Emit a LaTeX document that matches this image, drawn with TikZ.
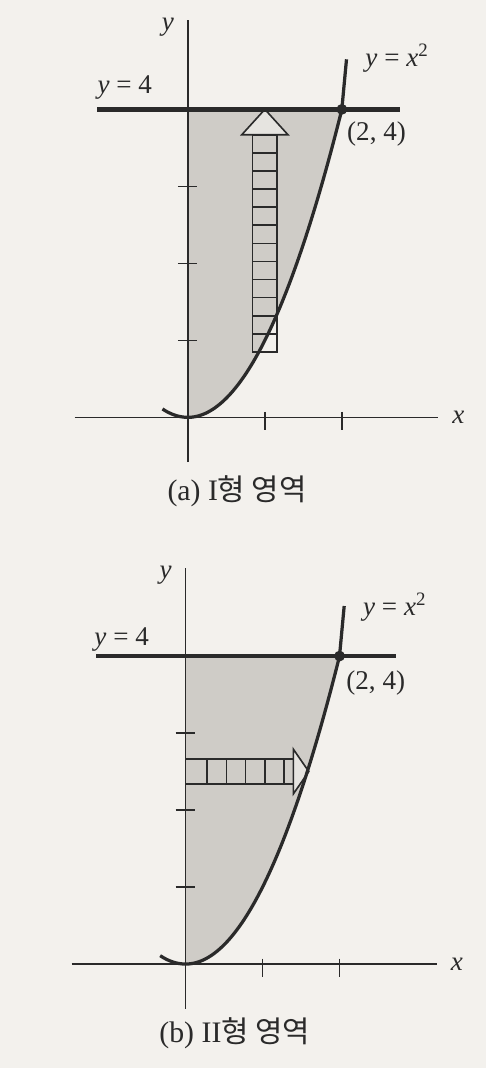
\documentclass[tikz,border=0pt]{standalone}
\usepackage{fontspec}
\setmainfont{Liberation Serif}
\newfontfamily\kor{Noto Sans CJK KR}
\usepackage{tikz}
\usetikzlibrary{arrows.meta,positioning}
\definecolor{Fondo}{HTML}{F3F1ED}
\definecolor{Region}{HTML}{CFCCC7}
\definecolor{Punta}{HTML}{E6E4E0}
\definecolor{Tinta}{HTML}{2A2A2A}

\begin{document}
\begin{tikzpicture}[
  font=\fontsize{10}{12}\selectfont,
  eje/.style={Tinta,line width=0.5pt},
  marca/.style={Tinta,line width=0.5pt},
  recta/.style={Tinta,line width=1.7pt},
  curva/.style={Tinta,line width=1.2pt},
  banda/.style={Tinta,line width=0.6pt},
  punta/.style={Tinta,line width=0.6pt,fill=Punta},
  etiqueta/.style={Tinta,inner sep=1pt},
  pie/.style={Tinta,font=\fontsize{11}{13}\selectfont}
]
  \useasboundingbox (-2.44,-8.45) rectangle (3.87,5.42);
  \fill[Fondo] (-2.44,-8.45) rectangle (3.87,5.42);

  % (a) franja vertical
  \begin{scope}
    \fill[Region] (0,0) -- plot[domain=0:2,samples=60] (\x,{\x*\x}) -- (0,4) -- cycle;
    \draw[eje] (-1.47,0) -- (3.25,0) node[right=4pt,etiqueta] (xa) {\textit{x}};
    \draw[eje] (0,-0.58) -- (0,5.16);
    \node[etiqueta] (ya) at (-0.26,5.07) {\textit{y}};
    \foreach \t in {1,2,3} {\draw[marca] (-0.13,\t) -- (0.12,\t);}
    \foreach \t in {1,2} {\draw[marca] (\t,0.07) -- (\t,-0.17);}
    % franja con flecha
    \draw[banda] (0.84,0.85) rectangle (1.16,3.67);
    \foreach \k in {1,...,11}
      {\draw[banda] (0.84,{0.85+0.235*\k}) -- (1.16,{0.85+0.235*\k});}
    \filldraw[punta] (0.70,3.67) -- (1.30,3.67) -- (1.0,4.0) -- cycle;
    \draw[recta] (-1.18,4) -- (2.75,4);
    \draw[curva] plot[domain=-0.33:2,samples=80,smooth] (\x,{\x*\x}) -- (2.06,4.65);
    \fill[Tinta] (2,4) circle (0.07);
    \node[etiqueta] (rectaA) at (-0.82,4.28) {\textit{y} = 4};
    \node[etiqueta] (curvaA) at (2.72,4.66) {\textit{y} = \textit{x}\textsuperscript{2}};
    \node[etiqueta] (puntoA) at (2.45,3.68) {(2, 4)};
    \node[pie] (pieA) at (0.64,-0.96) {(a) I{\kor 형 영역}};
  \end{scope}

  % (b) franja horizontal
  \begin{scope}[shift={(-0.03,-7.1)}]
    \fill[Region] (0,0) -- plot[domain=0:2,samples=60] (\x,{\x*\x}) -- (0,4) -- cycle;
    \draw[eje] (-1.48,0) -- (3.26,0) node[right=4pt,etiqueta] (xb) {\textit{x}};
    \draw[eje] (0,-0.58) -- (0,5.15);
    \node[etiqueta] (yb) at (-0.26,5.05) {\textit{y}};
    \foreach \t in {1,2,3} {\draw[marca] (-0.13,\t) -- (0.12,\t);}
    \foreach \t in {1,2} {\draw[marca] (\t,0.07) -- (\t,-0.17);}
    % franja con flecha
    \draw[banda] (0,2.34) rectangle (1.40,2.66);
    \foreach \k in {0,...,4}
      {\draw[banda] ({0.28+0.25*\k},2.34) -- ({0.28+0.25*\k},2.66);}
    \filldraw[punta] (1.40,2.21) -- (1.40,2.79) -- (1.60,2.5) -- cycle;
    \draw[recta] (-1.16,4) -- (2.73,4);
    \draw[curva] plot[domain=-0.33:2,samples=80,smooth] (\x,{\x*\x}) -- (2.06,4.65);
    \fill[Tinta] (2,4) circle (0.07);
    \node[etiqueta] (rectaB) at (-0.83,4.22) {\textit{y} = 4};
    \node[etiqueta] (curvaB) at (2.72,4.63) {\textit{y} = \textit{x}\textsuperscript{2}};
    \node[etiqueta] (puntoB) at (2.47,3.65) {(2, 4)};
    \node[pie] (pieB) at (0.64,-0.9) {(b) II{\kor 형 영역}};
  \end{scope}
\end{tikzpicture}
\end{document}
